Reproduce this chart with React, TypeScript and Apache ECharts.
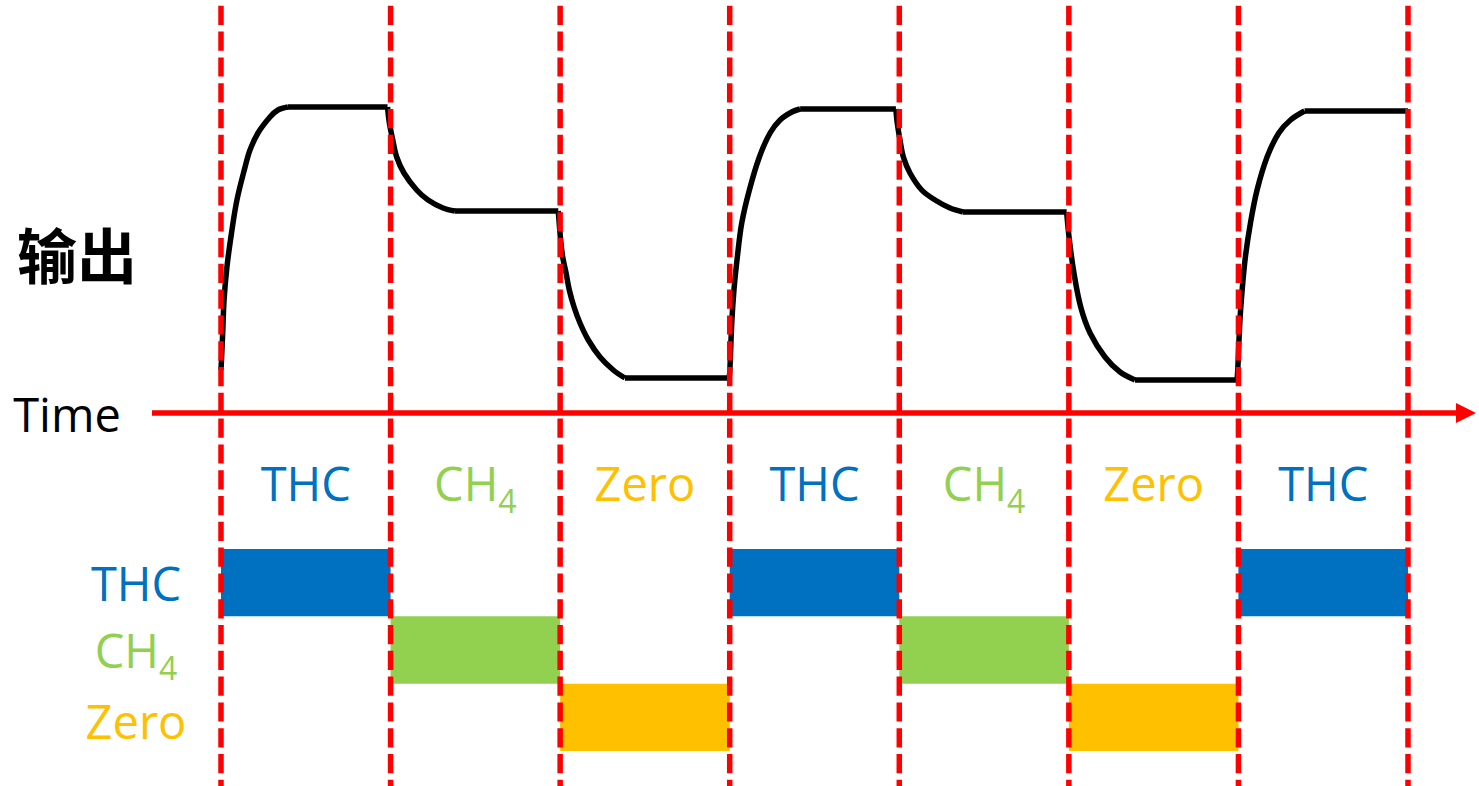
import React, { useEffect, useRef } from "react";
import * as echarts from "echarts";

const W = 1479;
const H = 786;
const FONT = "'Open Sans', 'Noto Sans', sans-serif";

// Period boundaries (gas switching instants), in units of one period
const switchTimes = [0, 1, 2, 3, 4, 5, 6, 7];
// Gas fed during each period
const periodGases = ["THC", "CH4", "Zero", "THC", "CH4", "Zero", "THC"];
// Rows of the lower gas-timing chart
const gasRows = ["THC", "CH4", "Zero"];
const gasColors: Record<string, string> = { THC: "#0070C0", CH4: "#92D050", Zero: "#FFC000" };

// Output response transitions: [time, output]
const rise1 = [[0, 43], [0.01, 80], [0.018, 113], [0.035, 146], [0.062, 180], [0.094, 213], [0.142, 246], [0.171, 263], [0.218, 280], [0.289, 296], [0.336, 303], [0.395, 306]];
const fall1 = [[0.982, 306], [0.993, 290], [1.013, 273], [1.036, 256], [1.079, 240], [1.154, 223], [1.221, 213], [1.309, 205], [1.38, 202]];
const fall2 = [[1.989, 202], [2.003, 173], [2.015, 156], [2.035, 140], [2.054, 123], [2.082, 106], [2.117, 90], [2.166, 73], [2.235, 56], [2.313, 43], [2.382, 35]];
const rise2 = [[2.996, 35], [3.0, 40], [3.012, 90], [3.025, 123], [3.045, 156], [3.071, 190], [3.116, 223], [3.175, 256], [3.238, 280], [3.297, 293], [3.366, 301], [3.415, 304]];
const fall3 = [[3.98, 304], [3.988, 290], [4.004, 273], [4.024, 256], [4.063, 240], [4.132, 223], [4.211, 213], [4.299, 205], [4.376, 201]];
const fall4 = [[4.987, 201], [5.003, 173], [5.03, 140], [5.07, 106], [5.125, 80], [5.213, 56], [5.302, 41], [5.39, 33]];
const rise3 = [[5.992, 33], [5.996, 43], [6.008, 90], [6.022, 123], [6.041, 156], [6.071, 190], [6.11, 223], [6.169, 256], [6.238, 280], [6.307, 293], [6.39, 302]];
const transitions = [rise1, fall1, fall2, rise2, fall3, fall4, rise3];
// Steady output levels: [start, end, output]
const plateaus = [[0.395, 0.982, 306], [1.38, 1.989, 202], [2.382, 2.996, 35], [3.415, 3.98, 304], [4.376, 4.987, 201], [5.39, 5.992, 33], [6.39, 7.0, 302]];

// Time axis extent (start and arrow end)
const timeAxisStart = -0.407;
const timeAxisEnd = 7.342;

// Axis ranges for the full canvas
const X_MIN = -221 / 169.57;
const X_MAX = 7 + 71 / 169.57;
const Y_MIN = -373;
const Y_MAX = 413;
const LABEL_LEVEL = -70;

const rich: any = {
  THC: { color: gasColors.THC, fontSize: 47, lineHeight: 47, fontFamily: FONT },
  CH: { color: gasColors.CH4, fontSize: 47, lineHeight: 47, fontFamily: FONT },
  sub: { color: gasColors.CH4, fontSize: 32, lineHeight: 20, fontFamily: FONT, padding: [35, 0, 0, 0] },
  Zero: { color: gasColors.Zero, fontSize: 47, lineHeight: 47, fontFamily: FONT },
  ZeroR: { color: gasColors.Zero, fontSize: 47, lineHeight: 47, fontFamily: FONT, padding: [7, 0, 0, 0] },
};
const fmtGas = (g: string) => (g === "CH4" ? "{CH|CH}{sub|4}" : `{${g}|${g}}`);
const fmtRow = (g: string) => (g === "Zero" ? "{ZeroR|Zero}" : fmtGas(g));

export default function App() {
  const ref = useRef<HTMLDivElement>(null);
  useEffect(() => {
    if (!ref.current) return;
    const chart = echarts.init(ref.current, null, { renderer: "svg" });
    const series: any[] = [];
    transitions.forEach((seg) => {
      series.push({
        type: "line",
        xAxisIndex: 0,
        yAxisIndex: 0,
        data: seg,
        smooth: 0.35,
        symbol: "none",
        lineStyle: { color: "#000", width: 5.5 },
        z: 3,
        silent: true,
      });
    });
    plateaus.forEach((p) => {
      series.push({
        type: "line",
        xAxisIndex: 0,
        yAxisIndex: 0,
        data: [[p[0], p[2]], [p[1], p[2]]],
        symbol: "none",
        lineStyle: { color: "#000", width: 5.5 },
        z: 3,
        silent: true,
      });
    });
    switchTimes.forEach((t) => {
      series.push({
        type: "line",
        xAxisIndex: 0,
        yAxisIndex: 0,
        data: [[t, Y_MAX], [t, Y_MIN]],
        symbol: "none",
        lineStyle: { color: "#FF0000", width: 5.5, type: [19.2, 6.6], dashOffset: 19.8 },
        z: 10,
        silent: true,
      });
    });
    // time axis with arrow
    series.push({
      type: "line",
      xAxisIndex: 0,
      yAxisIndex: 0,
      data: [],
      z: 9,
      markLine: {
        silent: true,
        symbol: ["none", "triangle"],
        symbolSize: [20, 20],
        label: { show: false },
        lineStyle: { color: "#FF0000", width: 5.5, type: "solid" },
        data: [[{ coord: [timeAxisStart, 0] }, { coord: [timeAxisEnd, 0] }]],
      },
    });
    // period labels
    series.push({
      type: "scatter",
      xAxisIndex: 0,
      yAxisIndex: 0,
      symbolSize: 0,
      itemStyle: { opacity: 1 },
      data: periodGases.map((g, i) => [(switchTimes[i] + switchTimes[i + 1]) / 2, LABEL_LEVEL, g]),
      label: {
        show: true,
        position: "inside",
        formatter: (p: any) => fmtGas(p.value[2]),
        rich,
      },
      z: 6,
      silent: true,
    });
    // gas timing bars
    series.push({
      type: "custom",
      xAxisIndex: 1,
      yAxisIndex: 1,
      encode: { x: [0, 1], y: 2 },
      data: periodGases.map((g, i) => ({
        value: [switchTimes[i], switchTimes[i + 1], gasRows.indexOf(g)],
        itemStyle: { color: gasColors[g] },
      })),
      renderItem: (params: any, api: any) => {
        const s = api.value(0);
        const e = api.value(1);
        const row = api.value(2);
        const p0 = api.coord([s, row]);
        const p1 = api.coord([e, row]);
        const h = api.size([0, 1])[1];
        return {
          type: "rect",
          shape: { x: p0[0], y: p0[1] - h / 2, width: p1[0] - p0[0], height: h },
          style: { fill: api.visual("color") },
        };
      },
      z: 2,
      silent: true,
    });

    chart.setOption({
      animation: false,
      backgroundColor: "#ffffff",
      grid: [
        { left: 0, right: 0, top: 0, bottom: 0 },
        { left: 0, right: 0, top: 549, height: 202 },
      ],
      xAxis: [
        { type: "value", gridIndex: 0, min: X_MIN, max: X_MAX, show: false },
        { type: "value", gridIndex: 1, min: X_MIN, max: X_MAX, show: false },
      ],
      yAxis: [
        { type: "value", gridIndex: 0, min: Y_MIN, max: Y_MAX, show: false },
        {
          type: "category",
          gridIndex: 1,
          data: gasRows,
          inverse: true,
          offset: -136,
          axisLine: { show: false },
          axisTick: { show: false },
          splitLine: { show: false },
          axisLabel: {
            interval: 0,
            margin: 0,
            align: "center",
            formatter: (v: string) => fmtRow(v),
            rich,
          },
        },
      ],
      graphic: [
        {
          type: "text",
          x: 77,
          y: 252,
          style: {
            text: "输出",
            fontSize: 60,
            fontWeight: "bold",
            fontFamily: "'Noto Sans CJK SC', sans-serif",
            fill: "#000",
            align: "center",
            verticalAlign: "middle",
          },
        },
        {
          type: "text",
          x: 67,
          y: 414,
          style: {
            text: "Time",
            fontSize: 47,
            fontFamily: FONT,
            fill: "#000",
            align: "center",
            verticalAlign: "middle",
          },
        },
      ],
      series,
    });
    return () => chart.dispose();
  }, []);
  return <div ref={ref} style={{ position: "fixed", left: 0, top: 0, width: W, height: H }} />;
}
